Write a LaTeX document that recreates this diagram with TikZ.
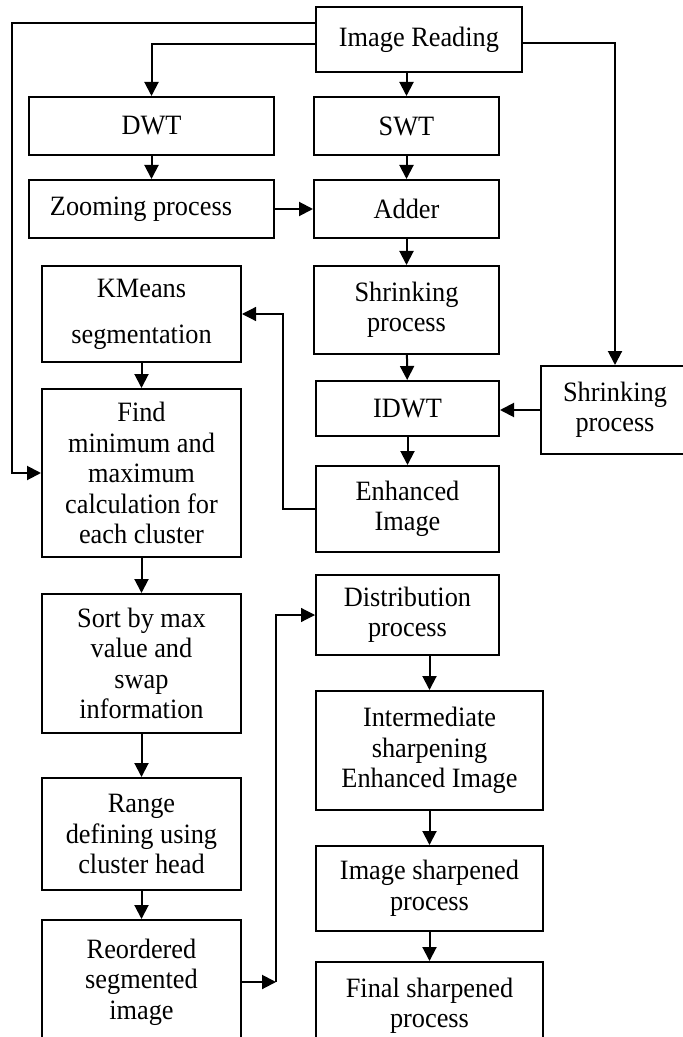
\documentclass[tikz,border=0pt]{standalone}
\usepackage{fontspec}
\setmainfont[FakeStretch=0.94]{Liberation Serif}
\usetikzlibrary{arrows.meta}
\tikzset{
    blk/.style={draw, line width=1pt, align=center, inner sep=1pt,
        font=\fontsize{14}{15.25}\selectfont},
    link/.style={->, line width=1pt},
    thinlink/.style={->, line width=0.6pt},
}

\begin{document}
\begin{tikzpicture}[x=0.5pt, y=-0.5pt, >={Triangle[length=7pt,width=7pt]}]

            \useasboundingbox (0,0) rectangle (683,1037);
            \clip (0,0) rectangle (683,1037);

            % Top and wavelet branch
            \node[blk, minimum width=103pt, minimum height=32.5pt] (read) at (419,39.5) {Image Reading};
            \node[blk, minimum width=122.5pt, minimum height=29pt] (dwt) at (151.5,126) {DWT};
            \node[blk, minimum width=92.5pt, minimum height=29pt] (swt) at (406.5,126) {SWT};
            \node[blk, minimum width=122.5pt, minimum height=29pt] (zoom) at (151.5,209) {Zooming process\rule{10.5pt}{0pt}};
            \node[blk, minimum width=92.5pt, minimum height=29pt] (adder) at (406.5,209) {Adder};
            \node[blk, minimum width=92.5pt, minimum height=44pt] (shr1) at (406.5,310) {Shrinking\\process};
            \node[blk, minimum width=91.5pt, minimum height=27.5pt] (idwt) at (407.5,408.5) {IDWT};
            \node[blk, minimum width=74pt, minimum height=44pt] (shr2) at (615,410) {Shrinking\\process};
            \node[blk, minimum width=91.5pt, minimum height=43pt] (enh) at (407.5,509) {Enhanced\\Image};

            % Segmentation branch
            \node[blk, minimum width=99.5pt, minimum height=48pt] (kmeans) at (141.5,314) {KMeans\\[7.75pt]segmentation};
            \node[blk, minimum width=99.5pt, minimum height=84pt] (find) at (141.5,473) {Find\\minimum and\\maximum\\calculation for\\each cluster};
            \node[blk, minimum width=99.5pt, minimum height=69.5pt] (sort) at (141.5,663.5) {Sort by max\\value and\\swap\\information};
            \node[blk, minimum width=99.5pt, minimum height=56pt] (range) at (141.5,834) {Range\\defining using\\cluster head};
            \node[blk, minimum width=99.5pt, minimum height=62pt] (reorder) at (141.5,982) {Reordered\\segmented\\image};

            % Sharpening branch
            \node[blk, minimum width=91.5pt, minimum height=40pt] (dist) at (407.5,615) {Distribution\\process};
            \node[blk, minimum width=113.5pt, minimum height=59.5pt] (inter) at (429.5,750.5) {Intermediate\\sharpening\\Enhanced Image};
            \node[blk, minimum width=113.5pt, minimum height=42.5pt] (sharp) at (429.5,888.5) {Image sharpened\\process};
            \node[blk, minimum width=113.5pt, minimum height=44pt] (final) at (429.5,1006) {Final sharpened\\process};

            % Bus lines
            \coordinate (lb) at (12,0);
            \coordinate (fb) at (283,0);
            \coordinate (rb) at (276,0);

            % Relationships
            \draw[link] ([yshift=8.25pt]read.west) -| (lb |- find.west) -- (find.west);
            \draw[link] ([yshift=-2.25pt]read.west) -| (dwt.north);
            \draw[link] ([yshift=-1.75pt]read.east) -| (shr2.north);
            \draw[link] (read.south -| swt.north) -- (swt.north);
            \draw[link] (dwt) -- (zoom);
            \draw[link] (swt) -- (adder);
            \draw[link] (zoom) -- (adder);
            \draw[link] (adder) -- (shr1);
            \draw[link] (shr1) -- (idwt);
            \draw[link] (shr2.west) -- (shr2.west -| idwt.east);
            \draw[link] (idwt) -- (enh);
            \draw[thinlink] (enh.west) -| (fb |- kmeans.east) -- (kmeans.east);
            \draw[link] (kmeans) -- (find);
            \draw[link] (find) -- (sort);
            \draw[link] (sort) -- (range);
            \draw[link] (range) -- (reorder);
            \draw[link] (reorder.east) -- (rb |- reorder.east);
            \draw[thinlink] (rb |- reorder.east) |- (dist.west);
            \draw[link] (dist.south -| inter.north) -- (inter.north);
            \draw[link] (inter) -- (sharp);
            \draw[link] (sharp) -- (final);

\end{tikzpicture}
\end{document}
